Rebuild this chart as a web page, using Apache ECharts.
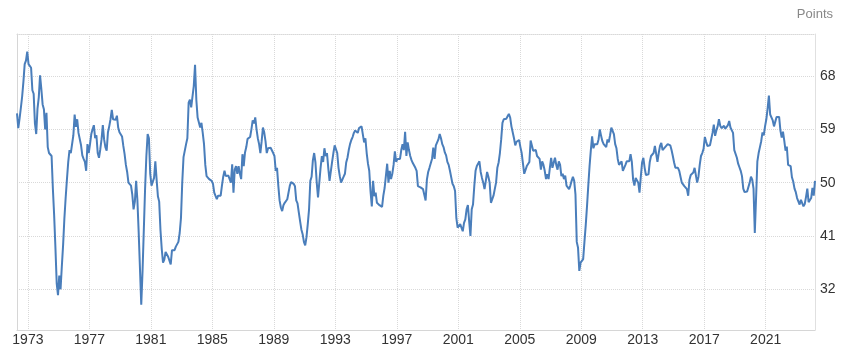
<!DOCTYPE html>
<html><head><meta charset="utf-8">
<script src="https://cdn.jsdelivr.net/npm/echarts@6/dist/echarts.min.js"></script>
<style>html,body{margin:0;padding:0;background:#fff}#c{width:852px;height:358px}</style>
</head><body><div id="c"></div>
<script>
const unitLabel = 'Points';
const startYear = 1972, startMonth = 4; // first monthly reading: April 1972

const pmi1970s = [
  61.7, 59.2, 60.8, 62.6, 64.5, 67.0, 70.0, 70.6, 72.1,
  70.0, 69.8, 69.4, 65.6, 65.0, 60.0, 58.2, 62.5, 64.4, 68.1, 65.8, 63.2,
  62.4, 59.0, 61.8, 56.0, 55.0, 54.9, 54.5, 49.0, 44.5, 39.0, 33.0, 31.0,
  34.3, 32.0, 35.9, 39.5, 44.0, 47.5, 50.6, 53.5, 55.5, 55.0, 55.3, 58.0,
  61.5, 59.4, 60.7, 58.4, 58.5, 56.3, 54.6, 54.0, 53.5, 52.0, 56.5, 55.0,
  56.5, 58.2, 59.0, 59.7, 57.5, 58.0, 55.0, 54.2, 55.6, 57.3, 59.7, 57.3,
  56.0, 55.4, 58.5, 59.5, 60.7, 62.3, 60.7, 60.5, 60.6, 61.3, 59.3, 58.5,
  58.2, 57.8, 56.2, 54.8, 53.0, 51.8, 50.0, 49.7, 49.5, 48.0, 45.5, 46.8
];
const pmi1980s = [
  50.3, 47.0, 41.6, 35.5, 29.4, 35.0, 42.0, 49.0, 54.5, 58.2, 57.5, 51.5,
  49.5, 49.2, 50.8, 53.6, 50.5, 47.7, 46.8, 42.0, 38.8, 36.5, 37.0, 38.3,
  38.0, 37.5, 37.8, 36.2, 38.6, 38.4, 38.6, 39.2, 39.5, 40.0, 41.5, 44.0,
  50.0, 54.3, 54.6, 56.5, 57.5, 63.5, 64.0, 62.7, 64.5, 66.3, 69.9, 64.0,
  61.0, 61.3, 59.3, 60.1, 58.4, 56.5, 53.0, 51.1, 51.0, 50.6, 50.6, 50.3,
  49.8, 48.3, 48.0, 47.2, 47.8, 47.5, 47.8, 49.5, 51.0, 52.0, 51.1, 51.4,
  51.2, 50.6, 50.0, 53.1, 48.3, 52.2, 52.8, 51.5, 52.8, 51.5, 50.6, 54.8,
  52.8, 55.1, 56.0, 57.4, 57.5, 57.7, 59.0, 60.5, 60.0, 61.0, 59.0, 57.5,
  56.5, 55.0, 57.0, 59.3, 58.5, 57.0, 55.0, 55.8, 56.0, 55.9, 56.2, 55.0,
  54.5, 52.0, 52.5, 49.5, 47.0, 45.8, 45.2, 46.2, 46.6, 46.8, 47.2, 47.5
];
const pmi1990s = [
  49.5, 50.1, 50.0, 49.8, 49.4, 47.0, 46.5, 45.0, 43.5, 42.1, 41.3, 40.0,
  39.4, 40.8, 43.0, 45.5, 50.3, 51.0, 53.8, 55.0, 53.4, 50.0, 47.5, 47.2,
  52.5, 54.5, 53.5, 55.8, 54.5, 55.0, 52.5, 50.3, 50.0, 53.5, 55.0, 56.3,
  56.0, 55.0, 52.5, 51.1, 50.0, 50.5, 51.0, 51.5, 53.4, 54.2, 55.5, 56.5,
  57.2, 57.7, 58.4, 58.8, 59.0, 58.4, 59.2, 59.3, 59.5, 59.2, 56.8, 57.5,
  55.0, 53.2, 52.0, 48.5, 46.0, 50.3, 47.7, 48.3, 46.6, 46.4, 46.2, 46.0,
  45.9, 47.8, 49.1, 49.2, 53.2, 50.0, 52.0, 50.6, 51.5, 53.0, 55.3, 53.5,
  54.0, 54.3, 54.0, 55.5, 56.5, 55.5, 58.6, 54.5, 56.8, 55.5, 54.5, 53.8,
  53.3, 53.1, 52.5, 52.0, 49.4, 49.4, 49.2, 49.0, 48.9, 48.6, 47.0, 50.5,
  51.8, 52.5, 52.8, 54.0, 55.9, 54.0, 56.3, 56.5, 57.3, 58.2, 57.5, 56.5
];
const pmi2000s = [
  56.0, 55.1, 54.6, 53.5, 53.0, 52.0, 52.0, 49.8, 49.4, 48.6, 44.0, 42.4,
  42.5, 43.0, 43.0, 41.8, 43.2, 43.8, 45.5, 46.2, 43.5, 41.0, 45.5, 46.3,
  49.4, 52.0, 52.8, 53.0, 53.6, 51.8, 50.8, 50.0, 48.9, 50.3, 51.8, 51.0,
  50.0, 46.6, 46.6, 47.8, 48.9, 50.0, 52.5, 53.4, 55.0, 57.3, 60.1, 60.7,
  60.4, 60.8, 61.2, 61.6, 61.0, 59.5, 59.2, 57.5, 56.3, 56.9, 57.0, 57.2,
  56.0, 55.0, 54.8, 51.5, 51.5, 52.8, 52.6, 53.5, 57.1, 57.3, 55.4, 55.5,
  55.5, 54.5, 54.8, 54.0, 52.2, 53.6, 53.0, 52.0, 50.6, 51.4, 50.6, 52.5,
  54.2, 52.5, 52.8, 54.2, 53.0, 52.2, 53.6, 53.0, 51.1, 51.5, 50.6, 51.2,
  49.5, 49.2, 48.9, 49.5, 50.3, 51.0, 50.3, 48.0, 40.0, 39.0, 35.1, 36.5,
  36.8, 37.1, 40.0, 42.8, 46.0, 49.5, 52.8, 55.5, 57.8, 55.8, 56.5, 56.2
];
const pmi2010s = [
  56.5, 57.3, 59.0, 57.9, 57.0, 56.5, 56.2, 56.0, 57.3, 56.8, 58.0, 59.3,
  59.2, 58.2, 56.5, 55.8, 54.0, 53.0, 53.2, 53.6, 52.0, 52.5, 53.0, 53.6,
  53.3, 53.6, 54.8, 53.5, 50.5, 49.5, 50.8, 51.0, 50.0, 48.3, 51.0, 53.4,
  54.2, 52.5, 51.3, 51.1, 51.4, 53.5, 54.5, 54.7, 55.0, 56.2, 56.5, 53.5,
  55.0, 56.2, 56.7, 55.5, 55.4, 56.0, 56.2, 56.5, 56.4, 56.3, 55.5, 54.5,
  53.4, 52.5, 52.8, 52.5, 52.0, 51.0, 50.0, 49.8, 49.4, 49.2, 48.9, 47.8,
  50.5, 51.3, 51.5, 51.7, 52.5, 52.2, 50.0, 51.0, 53.0, 54.5, 55.0, 55.7,
  57.7, 56.9, 56.2, 56.5, 56.3, 56.2, 58.4, 59.8, 57.9, 58.8, 59.5, 60.7,
  59.6, 59.2, 59.0, 59.6, 59.1, 59.0, 59.7, 60.4, 59.3, 59.3, 58.4, 55.5,
  55.4, 54.2, 53.2, 52.6, 52.0, 51.1, 49.0, 48.4, 48.3, 48.5, 48.3, 50.0
];
const pmi2020s = [
  51.0, 50.5, 49.0, 41.5, 47.5, 53.6, 55.0, 56.0, 57.0, 58.5, 58.0, 59.5,
  60.7, 62.5, 64.7, 61.5, 61.2, 60.5, 59.5, 60.3, 61.1, 60.8, 61.1, 58.8,
  57.6, 58.6, 57.1, 55.4, 56.1, 53.0, 52.8, 52.8, 50.9, 50.2, 49.0, 48.4,
  47.4, 47.7, 46.3, 47.1, 46.9, 46.0, 46.4, 47.6, 49.0, 46.7, 46.7, 47.4,
  49.1, 47.8, 50.3
];

const yTicks = [32, 41, 50, 59, 68];
const xTicks = [1973, 1977, 1981, 1985, 1989, 1993, 1997, 2001, 2005, 2009, 2013, 2017, 2021];

const values = [].concat(pmi1970s, pmi1980s, pmi1990s, pmi2000s, pmi2010s, pmi2020s);
const data = values.map((v, i) => [startYear + (startMonth - 1 + i + 0.5) / 12, v]);
const xMin = data[0][0], xMax = data[data.length - 1][0];
const yMin = 25.13, yMax = 75.09;

const FONT = '"Liberation Sans", Arial, sans-serif';
const gridCol = '#d9d9d9';

const chart = echarts.init(document.getElementById('c'), null, {renderer: 'canvas'});
chart.setOption({
  animation: false,
  backgroundColor: '#fff',
  textStyle: {fontFamily: FONT},
  title: {
    text: unitLabel, right: 19, top: 8, padding: 0,
    textStyle: {fontSize: 13, fontWeight: 'normal', color: '#888', fontFamily: FONT}
  },
  grid: {left: 17, right: 37, top: 34, bottom: 28, containLabel: false},
  xAxis: [{
    type: 'value', min: xMin, max: xMax, position: 'bottom',
    axisLine: {show: true, onZero: false, lineStyle: {color: '#d6d6d6', width: 1}},
    axisTick: {show: false, customValues: xTicks},
    axisLabel: {customValues: xTicks, formatter: v => String(v), color: '#333', fontSize: 14, margin: 3, fontFamily: FONT},
    splitLine: {show: true, lineStyle: {type: 'dotted', color: gridCol, width: 1}}
  }, {
    type: 'value', min: xMin, max: xMax, position: 'top',
    axisLine: {show: true, onZero: false, lineStyle: {type: 'dotted', color: gridCol, width: 1}},
    axisTick: {show: false}, axisLabel: {show: false}, splitLine: {show: false}
  }],
  yAxis: [{
    type: 'value', min: yMin, max: yMax, position: 'right',
    axisLine: {show: true, lineStyle: {color: '#e0e0e0', width: 1}},
    axisTick: {show: false, customValues: yTicks},
    axisLabel: {customValues: yTicks, color: '#333', fontSize: 14, margin: 5, fontFamily: FONT},
    splitLine: {show: true, lineStyle: {type: 'dotted', color: gridCol, width: 1}}
  }, {
    type: 'value', min: yMin, max: yMax, position: 'left',
    axisLine: {show: true, lineStyle: {color: '#d6d6d6', width: 1}},
    axisTick: {show: false}, axisLabel: {show: false}, splitLine: {show: false}
  }],
  series: [{
    type: 'line', xAxisIndex: 0, yAxisIndex: 0,
    data: data, symbol: 'none', showSymbol: false,
    lineStyle: {color: '#4a7ebb', width: 2},
    itemStyle: {color: '#4a7ebb'}
  }]
});
</script>
</body></html>
